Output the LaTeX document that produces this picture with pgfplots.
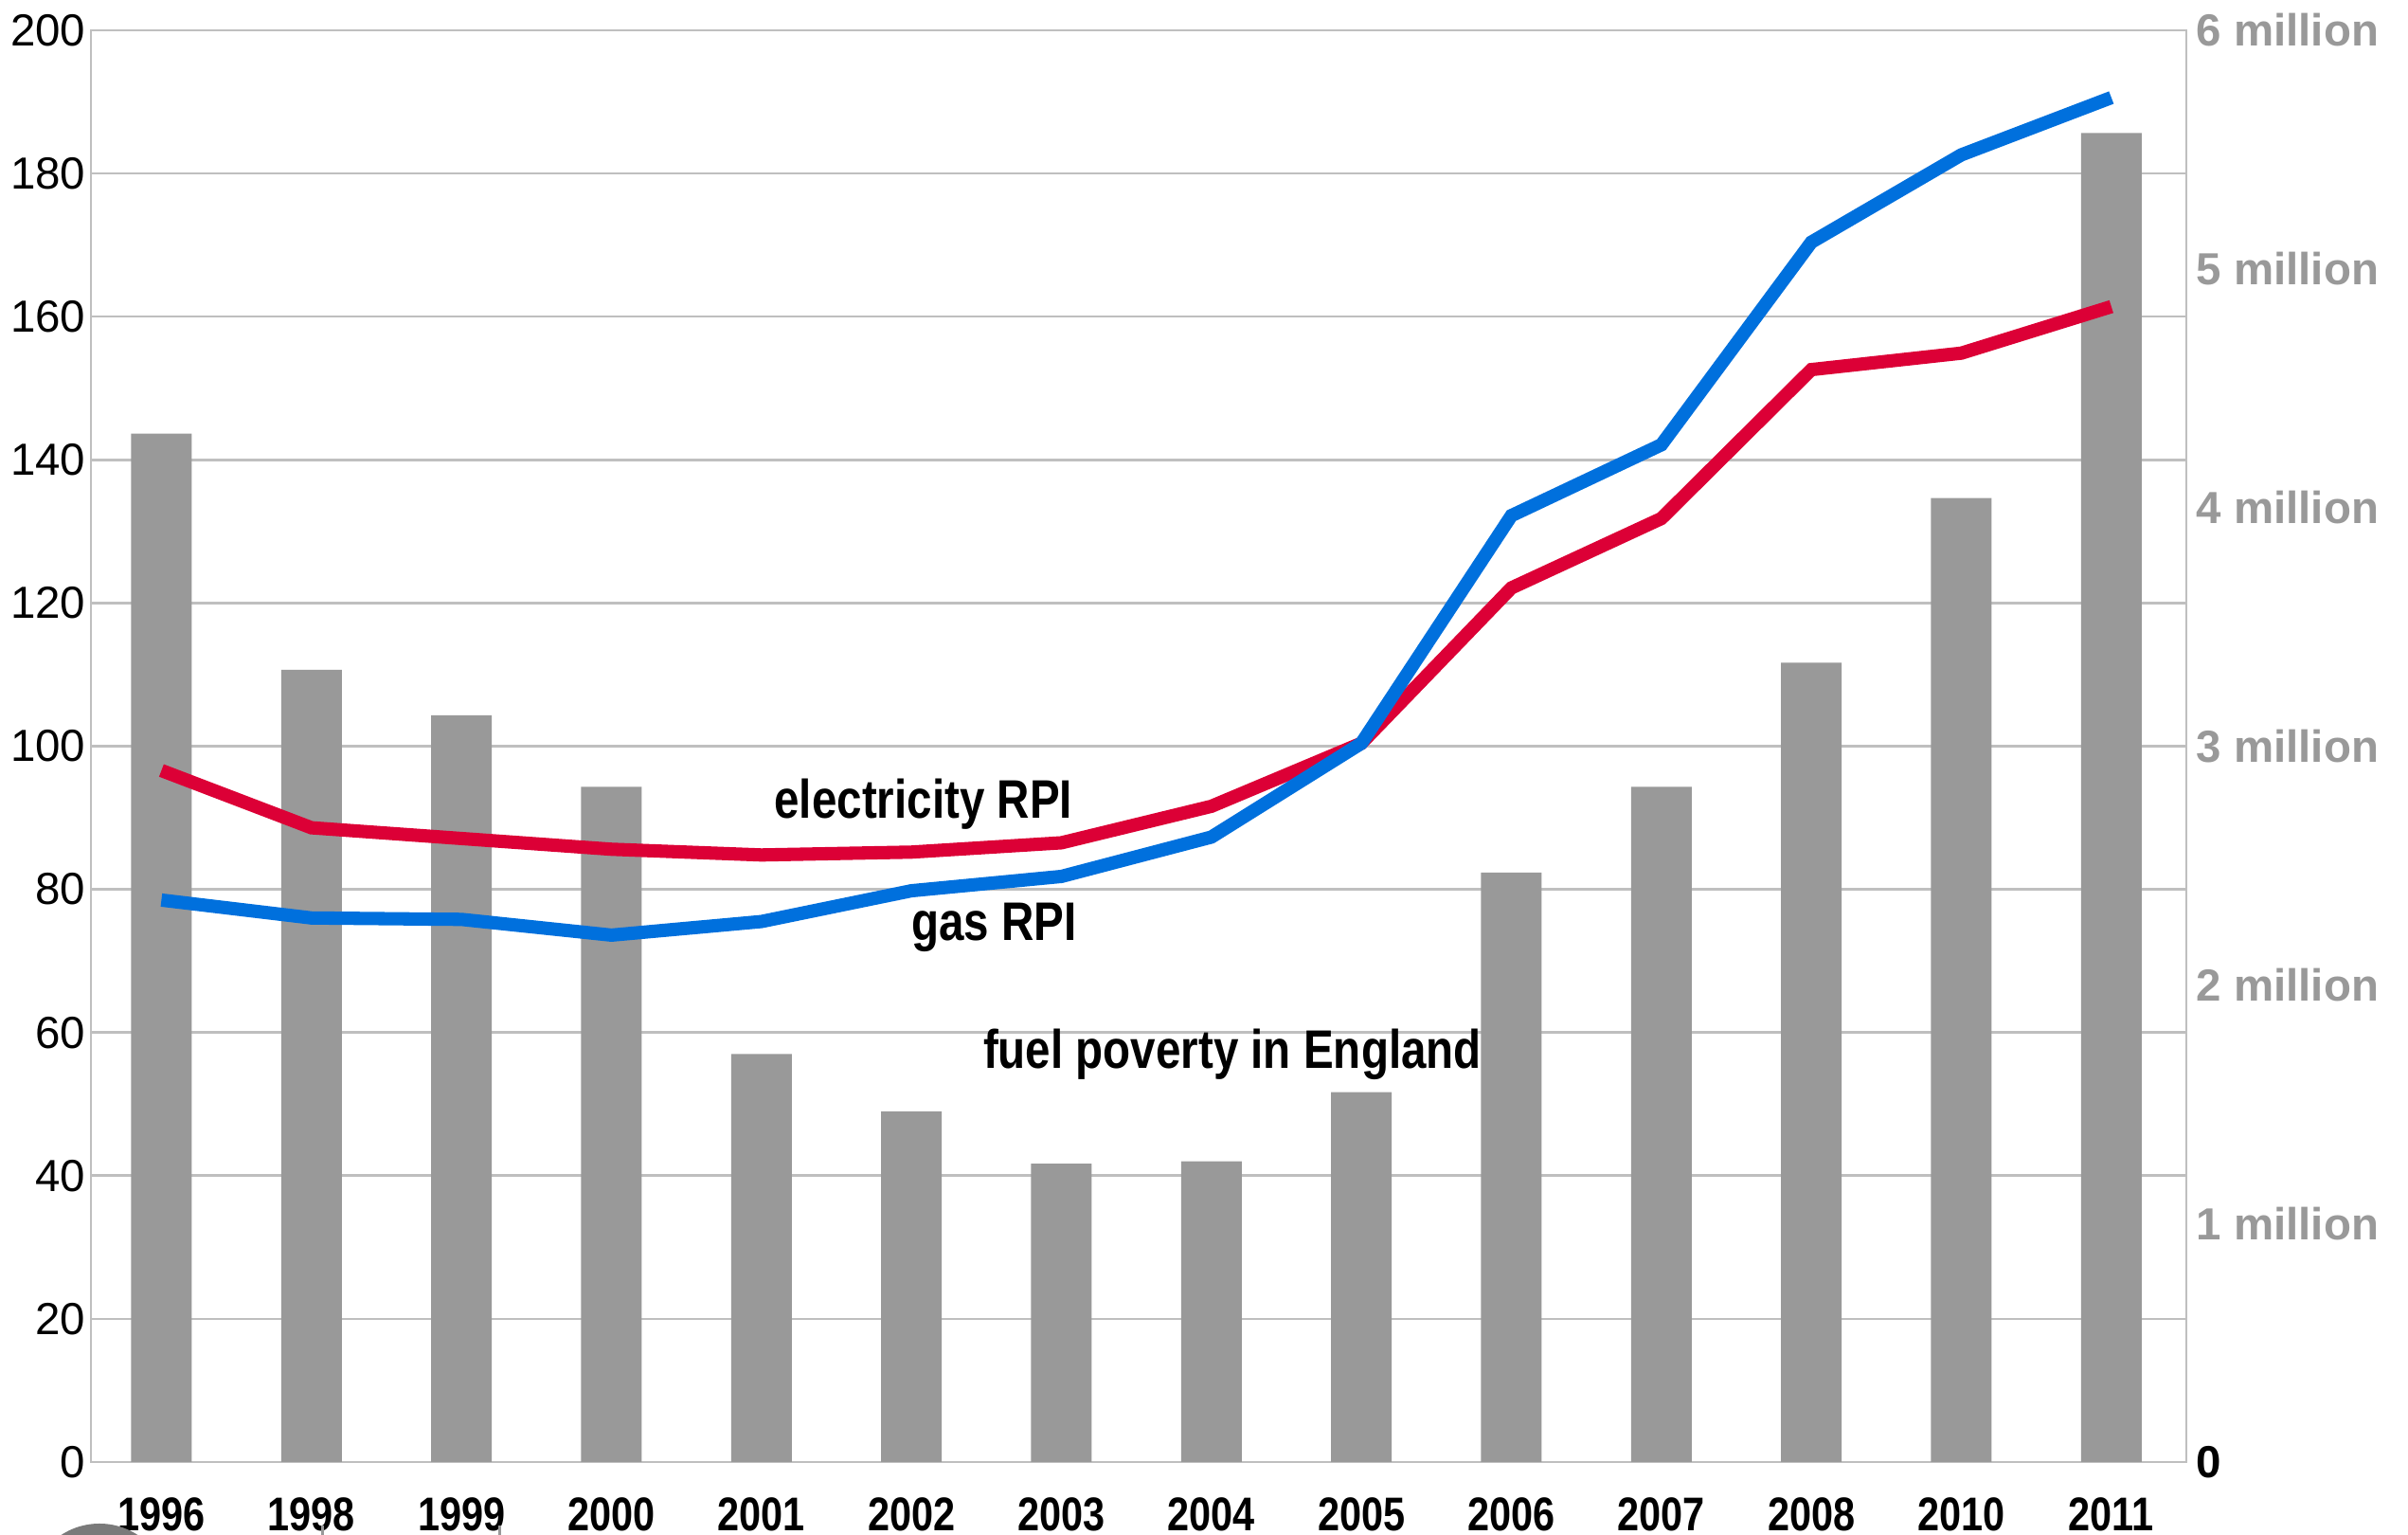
\documentclass[border=0pt]{standalone}
\usepackage{pgfplots}
\pgfplotsset{compat=1.18}
\usepackage{fontspec}
\setmainfont{Liberation Sans}
\newfontfamily\narrow[FakeStretch=0.83]{Liberation Sans}
\definecolor{elecred}{HTML}{DC0036}
\definecolor{gasblue}{HTML}{0070DD}
\definecolor{bargray}{HTML}{999999}
\definecolor{gridgray}{HTML}{BFBFBF}

% fuel poverty in England, millions of households
\pgfplotstableread{
x  fp
0  4.31
1  3.32
2  3.13
3  2.83
4  1.71
5  1.47
6  1.25
7  1.26
8  1.55
9  2.47
10 2.83
11 3.35
12 4.04
13 5.57
}\povertytable

% price indices (2005 = 100)
\pgfplotstableread{
x  elec  gas
0  96.6  78.5
1  88.6  76.0
2  87.1  75.8
3  85.6  73.6
4  84.8  75.5
5  85.2  79.8
6  86.5  81.8
7  91.6  87.3
8  100.4 100.4
9  122.1 132.2
10 131.8 142.1
11 152.6 170.4
12 154.9 182.6
13 161.4 190.6
}\rpitable

\pgfplotsset{
  base/.style={
    width=221.2mm, height=151.1mm, scale only axis,
    xmin=-0.47, xmax=13.5,
  },
}
\tikzset{serieslabel/.style={font=\fontsize{16.3}{17}\selectfont\narrow\bfseries}}

\begin{document}
\begin{tikzpicture}
% left scale, grid and year labels
\begin{axis}[base, name=main,
  ymin=0, ymax=200,
  ytick={0,20,...,200},
  xtick={0,...,13},
  xticklabels={1996,1998,1999,2000,2001,2002,2003,2004,2005,2006,2007,2008,2010,2011},
  major tick length=0pt,
  ymajorgrids, grid style={gridgray, line width=0.75pt},
  axis line style={gridgray, line width=0.8pt},
  /pgf/number format/assume math mode=true,
  yticklabel style={font=\fontsize{13.5}{14}\selectfont, inner sep=0pt, xshift=-0.5mm},
  xticklabel style={font=\fontsize{14.2}{15}\selectfont\narrow\bfseries, inner sep=0pt, anchor=north, yshift=-3.7mm},
]
\end{axis}
% fuel poverty bars on the right-hand scale
\begin{axis}[base,
  ymin=0, ymax=6,
  hide x axis,
  axis y line*=right,
  y axis line style={draw=none},
  major tick length=0pt,
  ytick={0,...,6},
  yticklabels={\textcolor{black}{0},1 million,2 million,3 million,4 million,5 million,6 million},
  yticklabel style={font=\fontsize{13.5}{14}\selectfont\bfseries, text=bargray, inner sep=0pt, xshift=1mm, anchor=west},
]
\addplot[ybar, bar width=6.4mm, bar shift=0pt, fill=bargray, draw=none] table[x=x, y=fp] {\povertytable};
\end{axis}
% price index lines
\begin{axis}[base, ymin=0, ymax=200, hide axis, clip=false]
\addplot[elecred, line width=4pt, no marks] table[x=x, y=elec] {\rpitable};
\addplot[gasblue, line width=4pt, no marks] table[x=x, y=gas] {\rpitable};
\node[serieslabel] at (axis cs:5.08,91.9) {electricity RPI};
\node[serieslabel] at (axis cs:5.55,74.7) {gas RPI};
\node[serieslabel] at (axis cs:7.14,57.0) {fuel poverty in England};
\end{axis}
% stray marks along the lower edge
\fill[black!52] ([shift={(0.9mm,-13.9mm)}]main.south west) circle (7.4mm);
\draw[bargray, line width=0.3mm] ([shift={(24.4mm,-6.7mm)}]main.south west) -- ++(0,-1.2mm);
\draw[bargray, line width=0.3mm] ([shift={(43.1mm,-6.7mm)}]main.south west) -- ++(0,-1.2mm);
\pgfresetboundingbox
\path ([shift={(-9.6mm,-7.7mm)}]main.south west) rectangle ++(254.2mm,162mm);
\end{tikzpicture}
\end{document}
